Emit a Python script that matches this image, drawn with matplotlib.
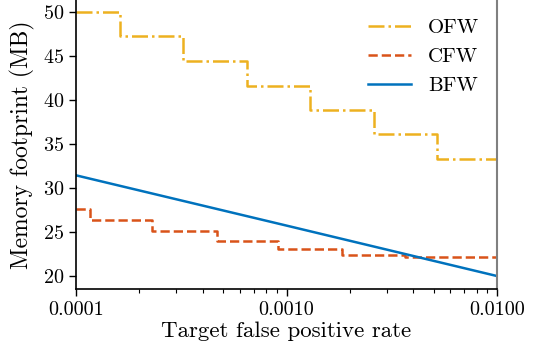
import matplotlib
matplotlib.use("Agg")
import matplotlib.pyplot as plt
from matplotlib.ticker import FixedLocator, FuncFormatter, LogLocator, NullFormatter

plt.rcParams['font.family'] = ['cmr10', 'DejaVu Serif']
plt.rcParams['mathtext.fontset'] = 'cm'
plt.rcParams['axes.formatter.use_mathtext'] = True

# Data
ofw_fpr = [1e-4, 1.62e-4, 3.21e-4, 6.49e-4, 1.29e-3, 2.6e-3, 5.2e-3, 1e-2]
ofw_mem = [50.0, 47.2, 44.4, 41.6, 38.9, 36.1, 33.3, 33.3]

cfw_fpr = [1e-4, 1.16e-4, 2.3e-4, 4.66e-4, 9.15e-4, 1.84e-3, 3.67e-3, 1e-2]
cfw_mem = [27.6, 26.35, 25.15, 24.05, 23.05, 22.4, 22.15, 22.15]

bfw_fpr = [1e-4, 1e-3, 1e-2]
bfw_mem = [31.45, 25.75, 20.03]

xtick_vals = [1e-4, 1e-3, 1e-2]
ytick_vals = [20, 25, 30, 35, 40, 45, 50]

fig = plt.figure(figsize=(5.41, 3.53), dpi=100)
ax = fig.add_axes([76/541, 1 - 289/353, (497-76)/541, 289/353])

ax.plot(ofw_fpr, ofw_mem, drawstyle='steps-post', color='#EDB120', lw=1.8,
        linestyle='-.', label='OFW')
ax.plot(cfw_fpr, cfw_mem, drawstyle='steps-post', color='#D95319', lw=1.8,
        linestyle='--', label='CFW')
ax.plot(bfw_fpr, bfw_mem, color='#0072BD', lw=1.8, linestyle='-', label='BFW')

ax.set_xscale('log')
ax.set_xlim(1e-4, 1e-2)
ax.set_ylim(18.56, 51.33)
ax.xaxis.set_major_locator(FixedLocator(xtick_vals))
ax.xaxis.set_major_formatter(FuncFormatter(lambda v, p: f"{v:.4f}"))
ax.xaxis.set_minor_locator(LogLocator(base=10, subs=range(2, 10)))
ax.xaxis.set_minor_formatter(NullFormatter())
ax.yaxis.set_major_locator(FixedLocator(ytick_vals))

ax.tick_params(axis='both', which='major', labelsize=14.5, direction='out', length=5, width=1)
ax.tick_params(axis='x', which='minor', direction='out', length=3, width=0.8)

ax.spines['top'].set_visible(False)
ax.spines['right'].set_color('gray')
ax.spines['right'].set_linewidth(1.5)
ax.spines['left'].set_linewidth(1.2)
ax.spines['bottom'].set_linewidth(1.2)

ax.set_xlabel('Target false positive rate', fontsize=16.5, labelpad=2)
ax.set_ylabel('Memory footprint (MB)', fontsize=17, labelpad=6)

ax.legend(loc='upper right', frameon=False, fontsize=15, handlelength=2.07,
          handletextpad=0.8, labelspacing=0.49, bbox_to_anchor=(1.002, 1.0))

fig.savefig('out.png', dpi=100)
